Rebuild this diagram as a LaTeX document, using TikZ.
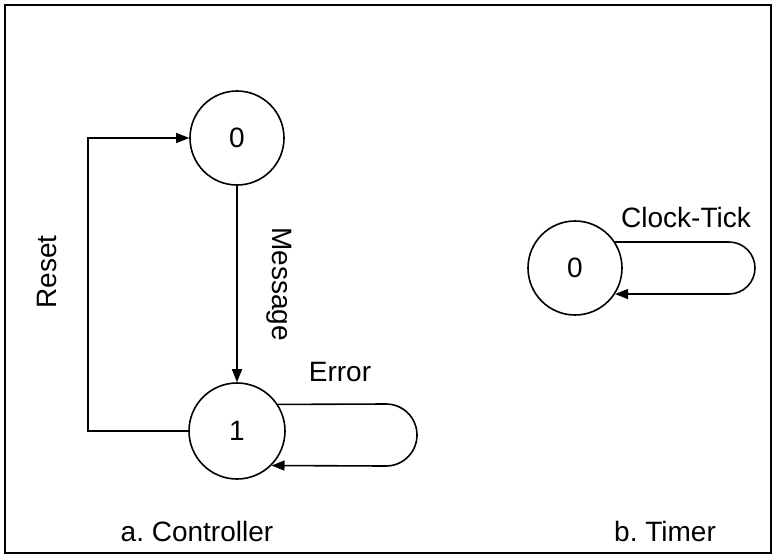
\documentclass[tikz,border=0pt]{standalone}
\usepackage{fontspec}
\setmainfont{Liberation Sans}
\usetikzlibrary{arrows.meta}
\begin{document}
\begin{tikzpicture}[x=1pt,y=-1pt,
  line width=1.6pt,
  state/.style={circle,draw,inner sep=0pt},
  lbl/.style={inner sep=0pt,font=\fontsize{28}{34}\selectfont},
  arr/.style={-{Triangle[length=13pt,width=10pt]}}]
\useasboundingbox (0,0) rectangle (775,557);
\draw[line width=1.4pt] (5,5) rectangle (771,553);
% controller
\node[state,minimum size=94pt,lbl] (c0) at (237,138) {0};
\node[state,minimum size=96pt,lbl] (c1) at (237,431) {1};
\draw[arr] (c0) -- (c1);
\coordinate (rx) at (88,0);
\draw[arr] (c1.west) -- (c1.west -| rx) -- (c0.west -| rx) -- (c0.west);
\coordinate (e1) at (386,404);
\draw[arr] (c1.33) -- (e1) arc[start angle=-90,end angle=90,radius=31] -- (c1.-45);
\node[lbl] (lmsg) at (279,284) [rotate=-90] {Message};
\node[lbl] (lreset) at (47,272) [rotate=90] {Reset};
\node[lbl] (lerr) at (340,372) {Error};
\node[lbl] (lctrl) at (197,531) {a.\ Controller};
% timer
\node[state,minimum size=94pt,lbl] (t0) at (575,268) {0};
\coordinate (t1) at (729,242);
\draw[arr] (t0.33) -- (t1) arc[start angle=-90,end angle=90,radius=26] -- (t0.-33);
\node[lbl] (lclk) at (686,217) {Clock-Tick};
\node[lbl] (ltim) at (665,531) {b.\ Timer};
\end{tikzpicture}
\end{document}
